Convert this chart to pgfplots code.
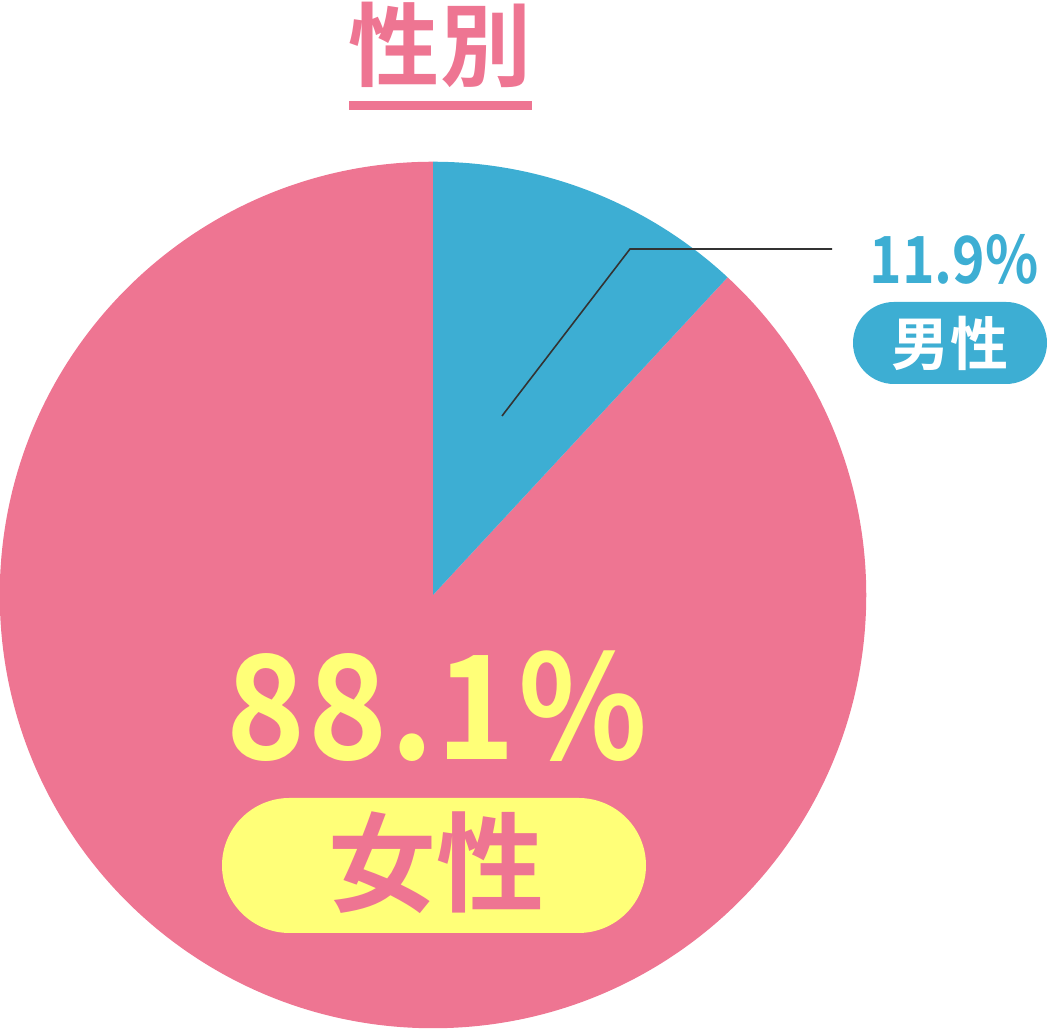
\documentclass[border=0pt]{standalone}
\usepackage{pgfplots}
\pgfplotsset{compat=1.18}
\usepackage{pgfplotstable}
\usepackage{fontspec}
\setmainfont{Noto Sans CJK JP Bold}
\newfontfamily\numfont{Noto Sans CJK JP Bold}[FakeStretch=0.93,LetterSpace=2]
\newfontfamily\smallnum{Noto Sans CJK JP Bold}[FakeStretch=0.85]

\definecolor{pinkc}{HTML}{EE7592}
\definecolor{bluec}{HTML}{3DAED3}
\definecolor{yellowc}{HTML}{FFFF78}
\definecolor{leader}{HTML}{333333}

% shares in percent: male, female
\pgfplotstableread{
share
11.9
88.1
}\piedata

\pgfplotstablegetelem{0}{share}\of\piedata \let\male\pgfplotsretval
\pgfplotstablegetelem{1}{share}\of\piedata \let\female\pgfplotsretval
\pgfmathsetmacro{\malestart}{90-3.6*\male}
\pgfmathsetmacro{\femaleend}{\malestart+360}

\newcommand{\fs}[1]{\fontsize{#1}{#1}\selectfont}

\begin{document}
\begin{tikzpicture}
\begin{axis}[
  name=ax,
  x=0.01cm, y=0.01cm,
  xmin=0, xmax=1049, ymin=0, ymax=1029,
  hide axis, clip=false,
]
% pie, centre (433,434), radius 433 units = 4.33cm
\fill[pinkc] (axis cs:433,434) -- ++(90:4.33cm)
  arc[start angle=90, end angle=\femaleend, radius=4.33cm] -- cycle;
\fill[bluec] (axis cs:433,434) -- ++(\malestart:4.33cm)
  arc[start angle=\malestart, end angle=90, radius=4.33cm] -- cycle;

% leader line for the male slice
\addplot[leader, line width=0.45pt, no marks] coordinates {(502,613) (630,780) (832,780)};

% title
\node[pinkc, inner sep=0, font=\fs{25.9pt}] at (axis cs:440,984) {性別};
\fill[pinkc] (axis cs:349,919) rectangle (axis cs:532,928);

% male label
\node[bluec, inner sep=0, font=\smallnum\fs{18.5pt}] at (axis cs:954,770) {\male\%};
\fill[bluec, rounded corners=0.41cm] (axis cs:853,645) rectangle (axis cs:1047,727);
\node[white, inner sep=0, font=\fs{16.5pt}] at (axis cs:950,686) {男性};

% female label
\node[yellowc, inner sep=0, font=\numfont\fs{41pt}] at (axis cs:437,323) {\female\%};
\fill[yellowc, rounded corners=0.675cm] (axis cs:222,96) rectangle (axis cs:646,231);
\node[pinkc, inner sep=0, font=\fs{30.7pt}] at (axis cs:436,166) {女性};
\end{axis}
\pgfresetboundingbox
\path (ax.south west) rectangle (ax.north east);
\end{tikzpicture}
\end{document}
